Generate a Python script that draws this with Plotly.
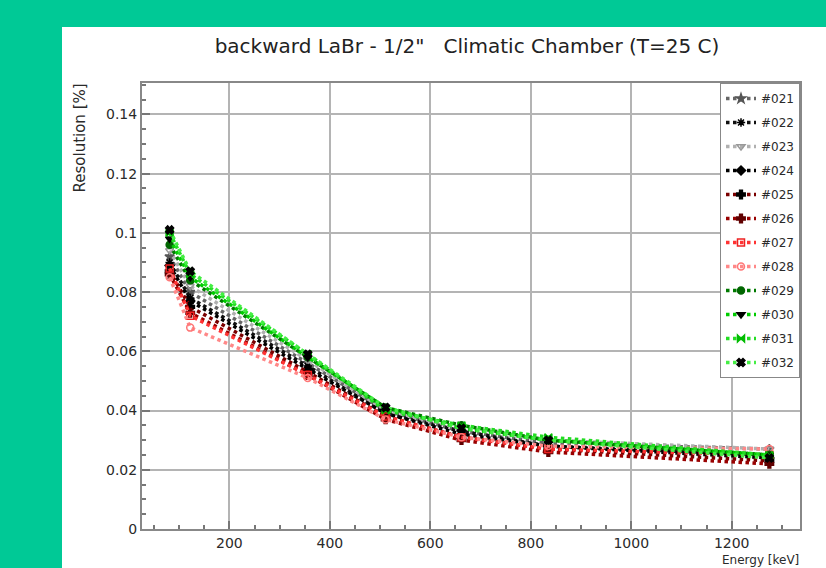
import plotly.graph_objects as go

energies = [81, 122, 356, 511, 662, 835, 1275]

names = ["#021", "#022", "#023", "#024", "#025", "#026",
         "#027", "#028", "#029", "#030", "#031", "#032"]

r021 = [0.092, 0.080, 0.056, 0.040, 0.033, 0.029, 0.027]
r022 = [0.090, 0.078, 0.055, 0.039, 0.033, 0.028, 0.025]
r023 = [0.094, 0.082, 0.057, 0.040, 0.034, 0.030, 0.027]
r024 = [0.089, 0.077, 0.054, 0.039, 0.032, 0.028, 0.024]
r025 = [0.087, 0.075, 0.053, 0.038, 0.031, 0.027, 0.023]
r026 = [0.086, 0.073, 0.052, 0.037, 0.030, 0.026, 0.022]
r027 = [0.088, 0.072, 0.052, 0.038, 0.031, 0.027, 0.025]
r028 = [0.085, 0.068, 0.051, 0.037, 0.031, 0.028, 0.027]
r029 = [0.096, 0.084, 0.058, 0.041, 0.035, 0.030, 0.025]
r030 = [0.098, 0.085, 0.058, 0.041, 0.034, 0.030, 0.025]
r031 = [0.100, 0.086, 0.059, 0.040, 0.035, 0.031, 0.025]
r032 = [0.101, 0.087, 0.059, 0.041, 0.034, 0.030, 0.024]
series = [r021, r022, r023, r024, r025, r026, r027, r028, r029, r030, r031, r032]

line_colors = ["#666666", "#111111", "#b0b0b0", "#000000", "#7a0000", "#990000",
               "#ff3333", "#ff8888", "#007a00", "#00cc00", "#22dd22", "#44ee44"]
marker_colors = ["#555555", "#000000", "#999999", "#000000", "#000000", "#600000",
                 "#ee2222", "#ff7777", "#006600", "#000000", "#00bb00", "#000000"]
marker_symbols = ["star", "asterisk-open", "triangle-down-open", "diamond", "cross", "cross",
                  "square-open", "circle-open", "circle", "triangle-down", "bowtie", "x"]

W, H = 826, 568
L, R, T, B = 142, 26, 83, 39
pw, ph = W - L - R, H - T - B

def px_x(p):
    return (p - L) / pw

def px_y(p):
    return (H - B - p) / ph

teal = "#00c996"
font_family = "DejaVu Sans, Liberation Sans, Arial, sans-serif"
txt = "#2a2a2a"

fig = go.Figure()
for i, name in enumerate(names):
    fig.add_trace(go.Scatter(
        x=energies, y=series[i], name=name, legendgroup=name,
        mode="lines+markers",
        line=dict(color=line_colors[i], width=3.5, dash="dot"),
        marker=dict(symbol=marker_symbols[i], color=marker_colors[i], size=7,
                    line=dict(color=marker_colors[i], width=1.5)),
    ))

fig.update_layout(
    width=W, height=H,
    margin=dict(l=L, r=R, t=T, b=B),
    paper_bgcolor="white", plot_bgcolor="white",
    font=dict(family=font_family, color=txt, size=12),
    title=dict(text='backward LaBr - 1/2"\u00a0\u00a0\u00a0Climatic Chamber (T=25 C)',
               x=px_x(467), xref="paper", xanchor="center",
               y=1 - 46 / H, yref="container", yanchor="middle",
               font=dict(size=20, color="#222222", family=font_family)),
    showlegend=True,
    legend=dict(x=1, y=1, xanchor="right", yanchor="top",
                bgcolor="white", bordercolor="#888888", borderwidth=1,
                font=dict(size=12, color=txt),
                itemwidth=30, tracegroupgap=5),
    shapes=[
        dict(type="rect", xref="paper", yref="paper", layer="below",
             x0=px_x(0), x1=px_x(W), y0=px_y(27), y1=px_y(0),
             fillcolor=teal, line=dict(width=0)),
        dict(type="rect", xref="paper", yref="paper", layer="below",
             x0=px_x(0), x1=px_x(62), y0=px_y(H), y1=px_y(0),
             fillcolor=teal, line=dict(width=0)),
    ],
    annotations=[
        dict(text="Resolution [%]", xref="paper", yref="paper",
             x=px_x(79), y=px_y(82), xanchor="center", yanchor="top",
             textangle=-90, showarrow=False, font=dict(size=15, color=txt)),
        dict(text="Energy [keV]", xref="paper", yref="paper",
             x=px_x(801), y=px_y(560), xanchor="right", yanchor="middle",
             showarrow=False, font=dict(size=12, color=txt)),
    ],
)

fig.update_xaxes(
    range=[26, 1336], dtick=200, tick0=0,
    ticks="inside", ticklen=8, tickcolor="#777777", tickwidth=1.5,
    showgrid=True, gridcolor="#b4b4b4", gridwidth=1.6,
    showline=True, mirror=True, linecolor="#888888", linewidth=2,
    zeroline=False, tickfont=dict(size=14, color=txt),
    minor=dict(dtick=50, ticks="inside", ticklen=4, tickcolor="#777777", showgrid=False),
)
fig.update_yaxes(
    range=[0, 0.1506], dtick=0.02, tick0=0,
    ticks="inside", ticklen=8, tickcolor="#777777", tickwidth=1.5,
    showgrid=True, gridcolor="#b4b4b4", gridwidth=1.6,
    showline=True, mirror=True, linecolor="#888888", linewidth=2,
    zeroline=False, tickfont=dict(size=14, color=txt),
    tickformat="~g",
    minor=dict(dtick=0.005, ticks="inside", ticklen=4, tickcolor="#777777", showgrid=False),
)

fig.write_html("out.html")
